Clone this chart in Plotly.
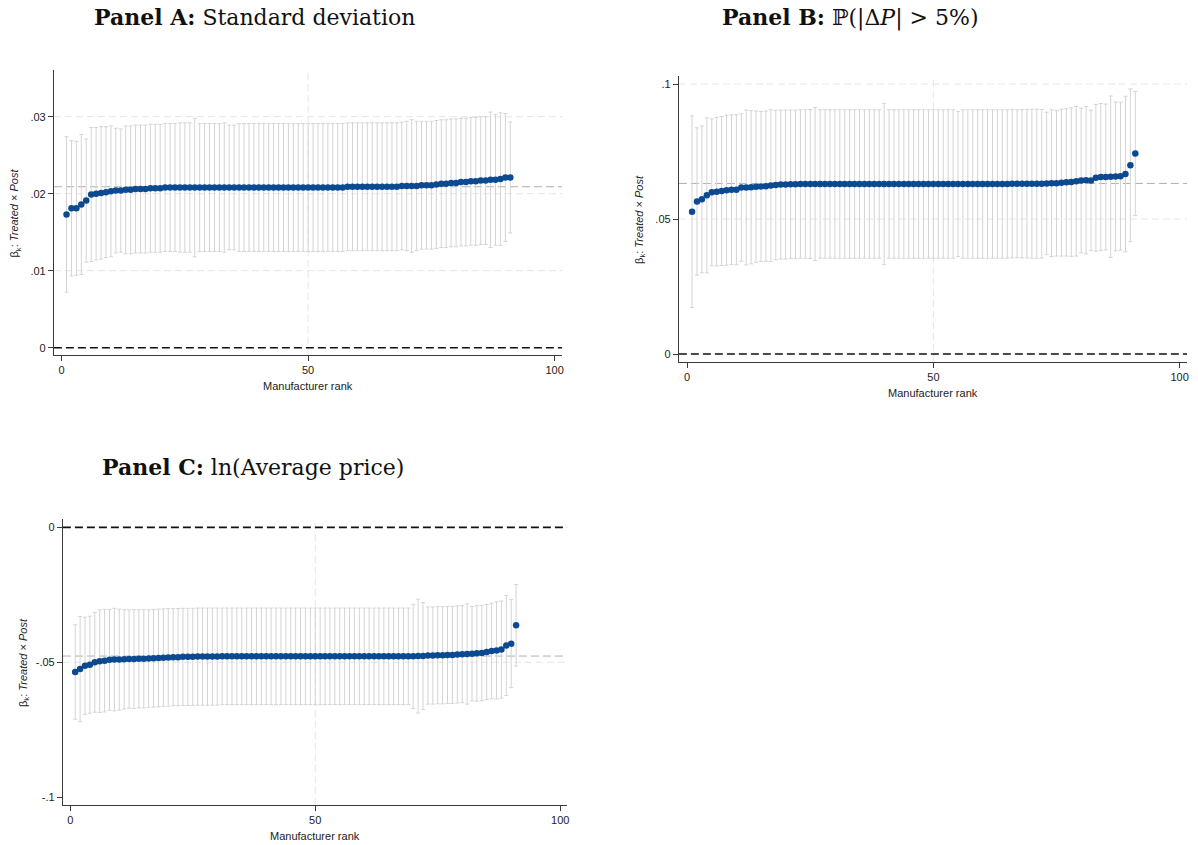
import plotly.graph_objects as go

# ---------------------------------------------------------------- data
rank = list(range(1, 92))

# Panel A: standard deviation of price changes
a_est = [0.0173, 0.0181, 0.0181, 0.0186, 0.0191, 0.0199, 0.0200, 0.0201, 0.0202, 0.0203,
         0.0204, 0.0204, 0.0205, 0.0205, 0.0206, 0.0206, 0.0206, 0.0207, 0.0207, 0.0207,
         0.0208, 0.0208, 0.0208, 0.0208, 0.0208, 0.0208, 0.0208, 0.0208, 0.0208, 0.0208,
         0.0208, 0.0208, 0.0208, 0.0208, 0.0208, 0.0208, 0.0208, 0.0208, 0.0208, 0.0208,
         0.0208, 0.0208, 0.0208, 0.0208, 0.0208, 0.0208, 0.0208, 0.0208, 0.0208, 0.0208,
         0.0208, 0.0208, 0.0208, 0.0208, 0.0208, 0.0208, 0.0208, 0.0209, 0.0209, 0.0209,
         0.0209, 0.0209, 0.0209, 0.0209, 0.0209, 0.0209, 0.0209, 0.0209, 0.0210, 0.0210,
         0.0210, 0.0210, 0.0211, 0.0211, 0.0211, 0.0212, 0.0213, 0.0213, 0.0214, 0.0214,
         0.0215, 0.0215, 0.0216, 0.0216, 0.0217, 0.0217, 0.0218, 0.0218, 0.0219, 0.0221,
         0.0221]
a_ci = [0.0101, 0.0088, 0.0087, 0.0091, 0.0080, 0.0087, 0.0086, 0.0086, 0.0085, 0.0085,
        0.0081, 0.0080, 0.0083, 0.0083, 0.0083, 0.0083, 0.0083, 0.0083, 0.0083, 0.0083,
        0.0083, 0.0083, 0.0083, 0.0084, 0.0084, 0.0084, 0.0090, 0.0083, 0.0083, 0.0083,
        0.0083, 0.0083, 0.0084, 0.0081, 0.0081, 0.0083, 0.0083, 0.0083, 0.0083, 0.0083,
        0.0083, 0.0083, 0.0083, 0.0083, 0.0083, 0.0083, 0.0083, 0.0083, 0.0083, 0.0083,
        0.0083, 0.0083, 0.0083, 0.0083, 0.0083, 0.0083, 0.0083, 0.0083, 0.0083, 0.0083,
        0.0083, 0.0083, 0.0083, 0.0083, 0.0083, 0.0083, 0.0083, 0.0083, 0.0083, 0.0084,
        0.0086, 0.0084, 0.0083, 0.0083, 0.0083, 0.0083, 0.0083, 0.0083, 0.0083, 0.0083,
        0.0083, 0.0083, 0.0083, 0.0083, 0.0083, 0.0083, 0.0088, 0.0085, 0.0086, 0.0083,
        0.0072]
a_base = 0.0209

# Panel B: probability of a large price change
b_est = [0.0527, 0.0565, 0.0573, 0.0588, 0.0599, 0.0601, 0.0604, 0.0607, 0.0609, 0.0609,
         0.0617, 0.0617, 0.0618, 0.0620, 0.0621, 0.0622, 0.0624, 0.0626, 0.0628, 0.0628,
         0.0629, 0.0629, 0.0630, 0.0630, 0.0630, 0.0630, 0.0630, 0.0630, 0.0630, 0.0630,
         0.0630, 0.0630, 0.0630, 0.0630, 0.0630, 0.0630, 0.0630, 0.0630, 0.0630, 0.0630,
         0.0630, 0.0630, 0.0630, 0.0630, 0.0630, 0.0630, 0.0630, 0.0630, 0.0630, 0.0630,
         0.0630, 0.0630, 0.0630, 0.0630, 0.0630, 0.0630, 0.0630, 0.0630, 0.0630, 0.0630,
         0.0630, 0.0630, 0.0630, 0.0630, 0.0630, 0.0631, 0.0631, 0.0631, 0.0631, 0.0631,
         0.0631, 0.0631, 0.0632, 0.0633, 0.0633, 0.0635, 0.0636, 0.0637, 0.0640, 0.0643,
         0.0644, 0.0643, 0.0653, 0.0656, 0.0656, 0.0657, 0.0658, 0.0659, 0.0667, 0.0699,
         0.0743]
b_ci = [0.0355, 0.0273, 0.0272, 0.0287, 0.0272, 0.0275, 0.0276, 0.0278, 0.0277, 0.0278,
        0.0273, 0.0287, 0.0284, 0.0280, 0.0278, 0.0278, 0.0281, 0.0277, 0.0276, 0.0276,
        0.0275, 0.0275, 0.0275, 0.0275, 0.0276, 0.0283, 0.0275, 0.0275, 0.0275, 0.0275,
        0.0275, 0.0275, 0.0275, 0.0275, 0.0275, 0.0275, 0.0275, 0.0275, 0.0275, 0.0299,
        0.0275, 0.0275, 0.0275, 0.0275, 0.0275, 0.0275, 0.0275, 0.0275, 0.0275, 0.0275,
        0.0275, 0.0275, 0.0275, 0.0275, 0.0269, 0.0275, 0.0275, 0.0275, 0.0275, 0.0275,
        0.0275, 0.0275, 0.0275, 0.0275, 0.0275, 0.0275, 0.0274, 0.0275, 0.0275, 0.0276,
        0.0276, 0.0275, 0.0264, 0.0272, 0.0270, 0.0272, 0.0273, 0.0275, 0.0277, 0.0268,
        0.0273, 0.0260, 0.0272, 0.0272, 0.0270, 0.0299, 0.0276, 0.0274, 0.0288, 0.0283,
        0.0230]
b_base = 0.0632

# Panel C: log average price
c_est = [-0.0536, -0.0525, -0.0513, -0.0509, -0.0500, -0.0496, -0.0494, -0.0491, -0.0490, -0.0490,
         -0.0489, -0.0488, -0.0488, -0.0487, -0.0487, -0.0486, -0.0485, -0.0484, -0.0483, -0.0482,
         -0.0481, -0.0481, -0.0480, -0.0480, -0.0480, -0.0479, -0.0479, -0.0479, -0.0479, -0.0479,
         -0.0478, -0.0478, -0.0478, -0.0478, -0.0478, -0.0478, -0.0478, -0.0478, -0.0478, -0.0478,
         -0.0478, -0.0478, -0.0478, -0.0478, -0.0478, -0.0478, -0.0478, -0.0478, -0.0478, -0.0478,
         -0.0478, -0.0478, -0.0478, -0.0478, -0.0478, -0.0478, -0.0478, -0.0478, -0.0478, -0.0478,
         -0.0478, -0.0478, -0.0478, -0.0478, -0.0478, -0.0478, -0.0478, -0.0478, -0.0478, -0.0478,
         -0.0477, -0.0477, -0.0475, -0.0475, -0.0474, -0.0474, -0.0473, -0.0473, -0.0471, -0.0470,
         -0.0469, -0.0468, -0.0467, -0.0466, -0.0462, -0.0458, -0.0456, -0.0453, -0.0438, -0.0431,
         -0.0363]
c_ci = [0.0175, 0.0195, 0.0180, 0.0180, 0.0185, 0.0190, 0.0190, 0.0187, 0.0190, 0.0187,
        0.0184, 0.0182, 0.0183, 0.0182, 0.0182, 0.0181, 0.0181, 0.0181, 0.0181, 0.0181,
        0.0180, 0.0180, 0.0180, 0.0180, 0.0180, 0.0180, 0.0180, 0.0180, 0.0180, 0.0180,
        0.0179, 0.0179, 0.0179, 0.0179, 0.0179, 0.0179, 0.0179, 0.0179, 0.0179, 0.0179,
        0.0179, 0.0179, 0.0179, 0.0179, 0.0179, 0.0179, 0.0179, 0.0179, 0.0179, 0.0179,
        0.0179, 0.0179, 0.0179, 0.0179, 0.0179, 0.0179, 0.0179, 0.0179, 0.0179, 0.0179,
        0.0179, 0.0179, 0.0179, 0.0179, 0.0179, 0.0179, 0.0179, 0.0179, 0.0179, 0.0193,
        0.0211, 0.0198, 0.0180, 0.0180, 0.0180, 0.0180, 0.0180, 0.0180, 0.0180, 0.0180,
        0.0186, 0.0175, 0.0177, 0.0177, 0.0176, 0.0177, 0.0180, 0.0180, 0.0185, 0.0163,
        0.0151]
c_base = -0.0477

x_ticks = [0, 50, 100]
a_ticks = [0, 0.01, 0.02, 0.03]
a_ticklabels = ["0", ".01", ".02", ".03"]
b_ticks = [0, 0.05, 0.1]
b_ticklabels = ["0", ".05", ".1"]
c_ticks = [-0.1, -0.05, 0]
c_ticklabels = ["-.1", "-.05", "0"]

titles = [
    "<b>Panel A:</b> Standard deviation",
    "<b>Panel B:</b> \u2119(|\u0394<i>P</i>| &gt; 5%)",
    "<b>Panel C:</b> ln(Average price)",
]
x_title = "Manufacturer rank"
y_title = "\u03b2<sub>k</sub>: <i>Treated</i> \u00d7 <i>Post</i>"

# ---------------------------------------------------------------- layout geometry
W, H = 1198, 845
MARKER = "#0b4a91"
BAR = "#d4d4d4"
AXIS = "#3a3a3a"
SANS = "Liberation Sans, Arial, sans-serif"
SERIF = "DejaVu Serif, Liberation Serif, serif"

# pixel boxes of the three plotting areas (left, top, right, bottom)
panels = [
    dict(est=a_est, ci=a_ci, base=a_base, ticks=a_ticks, labels=a_ticklabels,
         box=(54, 70, 563, 355), xr=(-1.56, 101.5), yr=(-0.00095, 0.03606),
         grid=[0.01, 0.02, 0.03], title_xy=(92, 17)),
    dict(est=b_est, ci=b_ci, base=b_base, ticks=b_ticks, labels=b_ticklabels,
         box=(680, 76, 1189, 362), xr=(-1.68, 101.5), yr=(-0.00295, 0.1030),
         grid=[0.05, 0.1], title_xy=(721, 17)),
    dict(est=c_est, ci=c_ci, base=c_base, ticks=c_ticks, labels=c_ticklabels,
         box=(63, 519, 568, 805), xr=(-1.51, 101.4), yr=(-0.1029, 0.0031),
         grid=[-0.05], title_xy=(100, 467)),
]

fig = go.Figure()
layout = dict(
    width=W, height=H,
    margin=dict(l=0, r=0, t=0, b=0),
    paper_bgcolor="white", plot_bgcolor="white",
    showlegend=False,
    shapes=[], annotations=[],
)

for i, p in enumerate(panels, start=1):
    sfx = "" if i == 1 else str(i)
    xa, ya = "x" + sfx, "y" + sfx
    l, t, r, b = p["box"]
    layout["xaxis" + sfx] = dict(
        domain=[l / W, r / W], range=list(p["xr"]), anchor=ya,
        tickvals=x_ticks, ticks="outside", ticklen=5, tickcolor=AXIS, tickwidth=1,
        showline=True, linecolor=AXIS, linewidth=1, showgrid=False, zeroline=False,
        tickfont=dict(family=SANS, size=11, color="#222"),
    )
    layout["yaxis" + sfx] = dict(
        domain=[1 - b / H, 1 - t / H], range=list(p["yr"]), anchor=xa,
        tickvals=p["ticks"], ticktext=p["labels"], ticks="outside", ticklen=5,
        tickcolor=AXIS, tickwidth=1, showline=True, linecolor=AXIS, linewidth=1,
        showgrid=False, zeroline=False,
        tickfont=dict(family=SANS, size=11, color="#222"),
    )

    # light dashed grid
    for g in p["grid"]:
        layout["shapes"].append(dict(
            type="line", xref=xa + " domain", yref=ya, x0=0, x1=1, y0=g, y1=g,
            line=dict(color="#e6e6e6", width=1, dash="7px,4px"), layer="below"))
    layout["shapes"].append(dict(
        type="line", xref=xa, yref=ya + " domain", x0=50, x1=50, y0=0, y1=1,
        line=dict(color="#e6e6e6", width=1, dash="7px,4px"), layer="below"))
    # full-sample estimate
    layout["shapes"].append(dict(
        type="line", xref=xa + " domain", yref=ya, x0=0, x1=1,
        y0=p["base"], y1=p["base"],
        line=dict(color="#b0b0b0", width=1, dash="8px,4px"), layer="below"))
    # zero reference
    layout["shapes"].append(dict(
        type="line", xref=xa + " domain", yref=ya, x0=0, x1=1, y0=0, y1=0,
        line=dict(color="#111", width=1.6, dash="8px,4px"), layer="below"))

    fig.add_trace(go.Scatter(
        x=rank, y=p["est"], mode="markers", xaxis=xa, yaxis=ya,
        marker=dict(color=MARKER, size=6.5, line=dict(width=0)),
        error_y=dict(type="data", array=p["ci"], symmetric=True,
                     color=BAR, thickness=1, width=2),
        hoverinfo="x+y",
    ))

    # panel heading
    tx, ty = p["title_xy"]
    layout["annotations"].append(dict(
        text=titles[i - 1], xref="paper", yref="paper", x=tx / W, y=1 - ty / H,
        xanchor="left", yanchor="middle", showarrow=False,
        font=dict(family=SERIF, size=22, color="#111")))
    # axis titles
    layout["annotations"].append(dict(
        text=x_title, xref="paper", yref="paper", x=(l + r) / 2 / W,
        y=1 - (b + 31) / H, xanchor="center", yanchor="middle", showarrow=False,
        font=dict(family=SANS, size=11, color="#222")))
    layout["annotations"].append(dict(
        text=y_title, xref="paper", yref="paper", x=(l - 39) / W,
        y=1 - (t + b) / 2 / H, xanchor="center", yanchor="middle", showarrow=False,
        textangle=-90, font=dict(family=SANS, size=11, color="#222")))

fig.update_layout(**layout)
fig.write_html("out.html")
